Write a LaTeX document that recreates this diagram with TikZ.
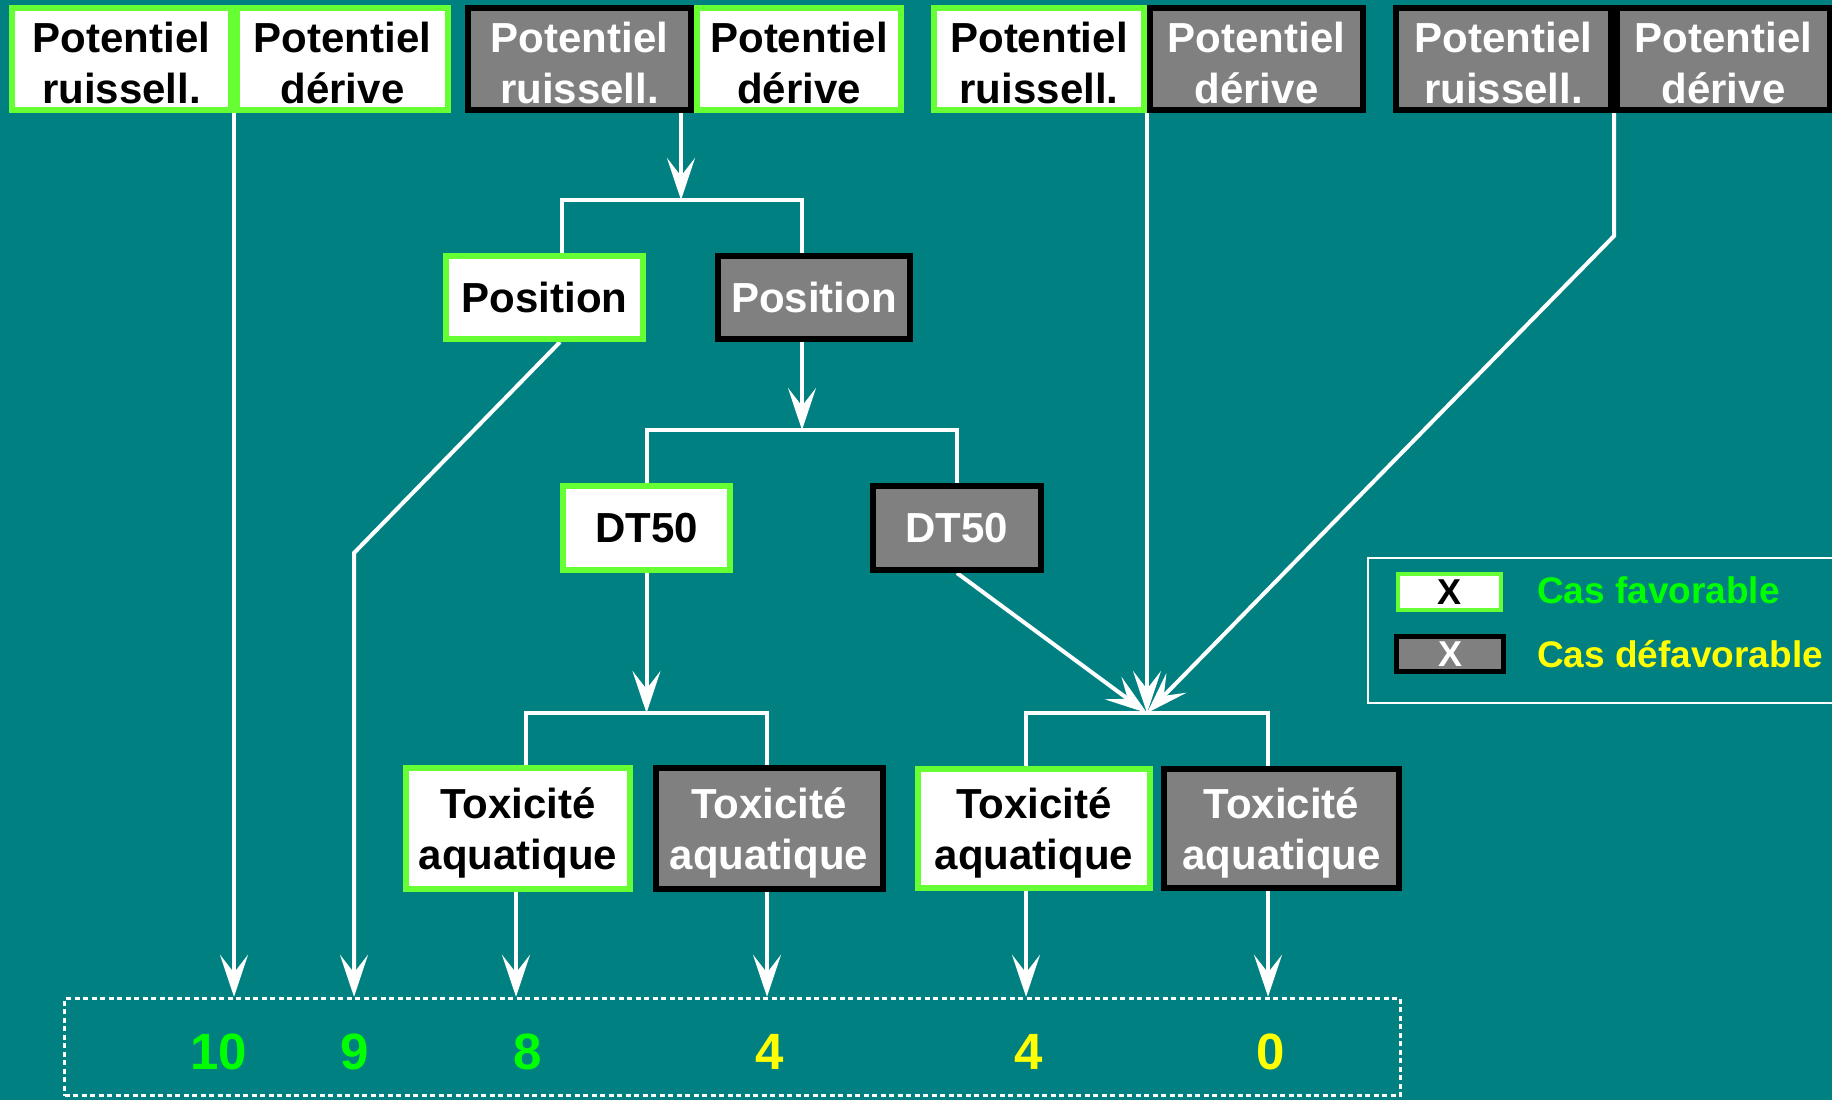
\documentclass[tikz,border=0pt]{standalone}
\usepackage{fontspec}
\setmainfont{Liberation Sans}
\usetikzlibrary{arrows.meta,calc}
\definecolor{bgteal}{RGB}{0,128,128}
\definecolor{favgreen}{RGB}{102,255,51}
\definecolor{boxgray}{RGB}{128,128,128}
\definecolor{numgreen}{RGB}{0,255,0}
\definecolor{numyellow}{RGB}{255,255,0}
\pgfdeclarelayer{bg}
\pgfdeclarelayer{lines}
\pgfsetlayers{bg,lines,main}
\newcommand{\topstrut}{\rule{0pt}{38pt}}
\newcommand{\toxstrut}{\rule{0pt}{40pt}}
\begin{document}
\begin{tikzpicture}[x=1pt,y=-1pt,
  box/.style={rectangle, inner sep=0pt, line width=6pt, align=center,
    font=\fontsize{42}{51}\selectfont\bfseries},
  fav/.style={box, fill=white, draw=favgreen, text=black},
  unfav/.style={box, fill=boxgray, draw=black, text=white},
  wline/.style={draw=white, line width=4pt},
  arr/.style={wline, -{Stealth[length=42pt, width=28pt, inset=18pt]}},
  score/.style={font=\fontsize{51}{51}\selectfont\bfseries, anchor=base, inner sep=0pt},
  legtext/.style={font=\fontsize{37}{37}\selectfont\bfseries, anchor=base west, inner sep=0pt},
]
\useasboundingbox (0,0) rectangle (1832,1100);
\begin{pgfonlayer}{bg}
\fill[bgteal] (0,0) rectangle (1832,1100);
\end{pgfonlayer}

% top row
\node[fav, minimum width=219, minimum height=102] (b1) at (121.5,59) {\topstrut Potentiel\\ruissell.};
\node[fav, minimum width=211, minimum height=102] (b2) at (342.5,59) {\topstrut Potentiel\\dérive};
\node[fav, minimum width=204, minimum height=102] (b4) at (799,59) {\topstrut Potentiel\\dérive};
\node[unfav, minimum width=223, minimum height=102] (b3) at (579.5,59) {\topstrut Potentiel\\ruissell.};
\node[fav, minimum width=210, minimum height=102] (b5) at (1039,59) {\topstrut Potentiel\\ruissell.};
\node[unfav, minimum width=213, minimum height=102] (b6) at (1256.5,59) {\topstrut Potentiel\\dérive};
\node[unfav, minimum width=215, minimum height=102] (b7) at (1503.5,59) {\topstrut Potentiel\\ruissell.};
\node[unfav, minimum width=213, minimum height=102] (b8) at (1723.5,59) {\topstrut Potentiel\\dérive};

% Position
\node[fav, minimum width=197, minimum height=83] (posF) at (544.5,297.5) {Position};
\node[unfav, minimum width=192, minimum height=83] (posD) at (814,297.5) {Position};

% DT50
\node[fav, minimum width=167, minimum height=84] (dtF) at (646.5,528) {DT50};
\node[unfav, minimum width=168, minimum height=84] (dtD) at (957,528) {DT50};

% Toxicite
\node[fav, minimum width=224, minimum height=121] (toxF1) at (518,828.5) {\toxstrut Toxicité\\aquatique};
\node[unfav, minimum width=227, minimum height=121] (toxD1) at (769,828.5) {\toxstrut Toxicité\\aquatique};
\node[fav, minimum width=232, minimum height=119] (toxF2) at (1034,828.5) {\toxstrut Toxicité\\aquatique};
\node[unfav, minimum width=235, minimum height=119] (toxD2) at (1281.5,828.5) {\toxstrut Toxicité\\aquatique};

% score box
\node[draw=white, line width=3.5pt, dash pattern=on 5pt off 3.5pt, inner sep=0pt,
  minimum width=1336, minimum height=97] (scores) at (732.5,1047) {};
\node[score, text=numgreen] (s10) at (219,1069) {10};
\node[score, text=numgreen] (s9) at (355,1069) {9};
\node[score, text=numgreen] (s8) at (528,1069) {8};
\node[score, text=numyellow] (s4a) at (770,1069) {4};
\node[score, text=numyellow] (s4b) at (1029,1069) {4};
\node[score, text=numyellow] (s0) at (1271,1069) {0};

% legend
\node[draw=white, line width=2pt, inner sep=0pt, minimum width=532, minimum height=145] (legend) at (1634,630.5) {};
\node[fav, line width=3.5pt, minimum width=103, minimum height=36, font=\fontsize{36}{36}\selectfont\bfseries] (lfav) at (1449.5,592) {X};
\node[unfav, line width=5pt, minimum width=107, minimum height=35, font=\fontsize{36}{36}\selectfont\bfseries] (ldef) at (1450,654) {X};
\node[legtext, text=numgreen] (tfav) at (1537,603) {Cas favorable};
\node[legtext, text=numyellow] (tdef) at (1537,667) {Cas défavorable};

% connectors
\coordinate (j10) at ($(b1.south east)!0.5!(b2.south west)$);
\coordinate (j56) at ($(b5.south east)!0.5!(b6.south west)$);
\coordinate (j78) at ($(b7.south east)!0.5!(b8.south west)$);
\coordinate (bar1) at (681,200);
\coordinate (bar2) at (802,430);
\coordinate (bar3) at (646.5,713);
\coordinate (bar4) at (1147,713);
\coordinate (k9) at (354,553);
\coordinate (k0) at (1614,236);
\coordinate (t8) at ([xshift=-2pt]toxF1.south);
\coordinate (t4a) at ([xshift=-2pt]toxD1.south);
\coordinate (t4b) at ([xshift=-8pt]toxF2.south);
\coordinate (t0) at ([xshift=-13.5pt]toxD2.south);

\begin{pgfonlayer}{lines}
\draw[arr] (j10) -- (j10 |- scores.north);
\draw[arr] (b3.south -| bar1) -- (bar1);
\draw[wline] ([xshift=17.5pt]posF.north) |- (bar1) -| ([xshift=-12pt]posD.north);
\draw[arr] ([xshift=15.5pt]posF.south) -- (k9) -- (k9 |- scores.north);
\draw[arr] (posD.south -| bar2) -- (bar2);
\draw[wline] (dtF.north) |- (bar2) -| (dtD.north);
\draw[arr] (dtF.south) -- (bar3);
\draw[wline] ([xshift=8pt]toxF1.north) |- (bar3) -| ([xshift=-2pt]toxD1.north);
\draw[arr] (dtD.south) -- (bar4);
\draw[arr] (j56) -- (bar4);
\draw[arr] (j78) -- (k0) -- (bar4);
\draw[wline] ([xshift=-8pt]toxF2.north) |- (bar4) -| ([xshift=-13.5pt]toxD2.north);
\draw[arr] (t8) -- (t8 |- scores.north);
\draw[arr] (t4a) -- (t4a |- scores.north);
\draw[arr] (t4b) -- (t4b |- scores.north);
\draw[arr] (t0) -- (t0 |- scores.north);
\end{pgfonlayer}
\end{tikzpicture}
\end{document}
